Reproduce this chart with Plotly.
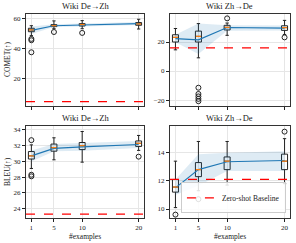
import plotly.graph_objects as go

FONT = "Liberation Serif"

x_examples = [1, 5, 10, 20]
x_ticklabels = ["1", "5", "10", "20"]

# Panel A: COMET, Wiki De->Zh
comet_dezh_q1 = [51.5, 54.9, 55.3, 55.8]
comet_dezh_med = [52.7, 55.5, 56.3, 56.7]
comet_dezh_q3 = [53.8, 56.2, 56.9, 57.6]
comet_dezh_lo = [48.9, 53.5, 53.5, 53.3]
comet_dezh_hi = [55.5, 58.7, 58.9, 59.8]
comet_dezh_out_x = [1, 1, 1, 5, 10]
comet_dezh_out_y = [46.7, 45.8, 37.8, 51.3, 50.7]
comet_dezh_mean = [52.4, 55.5, 56.0, 56.9]
comet_dezh_band_lo = [50.0, 54.6, 55.0, 55.9]
comet_dezh_band_hi = [55.0, 56.5, 57.0, 58.0]
comet_dezh_base = 4.9

# Panel B: COMET, Wiki Zh->De
comet_zhde_q1 = [20.0, 20.0, 28.3, 28.0]
comet_zhde_med = [23.2, 23.9, 30.1, 29.9]
comet_zhde_q3 = [25.0, 27.5, 31.5, 31.2]
comet_zhde_lo = [14.6, 9.1, 24.6, 25.2]
comet_zhde_hi = [29.3, 32.7, 33.1, 34.9]
comet_zhde_out_x = [5, 5, 5, 5, 5, 10, 20]
comet_zhde_out_y = [-11.5, -15.8, -17.5, -19.2, -20.8, 36.3, 23.2]
comet_zhde_mean = [22.3, 21.5, 30.0, 29.6]
comet_zhde_band_lo = [19.8, 11.7, 27.8, 27.9]
comet_zhde_band_hi = [25.0, 32.8, 31.5, 31.3]
comet_zhde_base = 15.9

# Panel C: BLEU, Wiki De->Zh
bleu_dezh_q1 = [30.3, 31.3, 31.5, 31.9]
bleu_dezh_med = [30.7, 31.75, 32.0, 32.3]
bleu_dezh_q3 = [31.25, 32.2, 32.4, 32.6]
bleu_dezh_lo = [29.1, 30.2, 29.9, 31.4]
bleu_dezh_hi = [32.1, 33.0, 33.8, 33.3]
bleu_dezh_out_x = [1, 1, 1, 20]
bleu_dezh_out_y = [32.7, 28.1, 28.3, 30.6]
bleu_dezh_mean = [30.7, 31.65, 31.85, 32.15]
bleu_dezh_band_lo = [30.0, 31.3, 31.35, 31.7]
bleu_dezh_band_hi = [31.4, 32.2, 32.35, 32.6]
bleu_dezh_base = 23.3

# Panel D: BLEU, Wiki Zh->De
bleu_zhde_q1 = [11.2, 12.3, 12.8, 12.8]
bleu_zhde_med = [11.56, 12.8, 13.4, 13.4]
bleu_zhde_q3 = [12.1, 13.3, 13.7, 13.9]
bleu_zhde_lo = [10.1, 11.3, 11.7, 11.8]
bleu_zhde_hi = [13.4, 14.8, 14.8, 15.0]
bleu_zhde_out_x = [1, 5, 20]
bleu_zhde_out_y = [9.6, 10.7, 15.5]
bleu_zhde_mean = [11.5, 12.8, 13.36, 13.45]
bleu_zhde_band_lo = [11.0, 11.65, 12.7, 12.7]
bleu_zhde_band_hi = [12.1, 13.9, 14.0, 14.1]
bleu_zhde_base = 12.1

panels = [
    dict(title="Wiki De→Zh", q1=comet_dezh_q1, med=comet_dezh_med, q3=comet_dezh_q3,
         lo=comet_dezh_lo, hi=comet_dezh_hi, ox=comet_dezh_out_x, oy=comet_dezh_out_y,
         mean=comet_dezh_mean, blo=comet_dezh_band_lo, bhi=comet_dezh_band_hi,
         base=comet_dezh_base, yr=[2.0, 63.3], yt=[20, 40, 60], ytitle="COMET(↑)",
         dom_x=[26 / 296, 144 / 296], dom_y=[1 - 106 / 243, 1 - 14 / 243], bottom=False),
    dict(title="Wiki Zh→De", q1=comet_zhde_q1, med=comet_zhde_med, q3=comet_zhde_q3,
         lo=comet_zhde_lo, hi=comet_zhde_hi, ox=comet_zhde_out_x, oy=comet_zhde_out_y,
         mean=comet_zhde_mean, blo=comet_zhde_band_lo, bhi=comet_zhde_band_hi,
         base=comet_zhde_base, yr=[-24.1, 39.3], yt=[-20, 0, 20], ytitle=None,
         dom_x=[170 / 296, 290 / 296], dom_y=[1 - 106 / 243, 1 - 14 / 243], bottom=False),
    dict(title="Wiki De→Zh", q1=bleu_dezh_q1, med=bleu_dezh_med, q3=bleu_dezh_q3,
         lo=bleu_dezh_lo, hi=bleu_dezh_hi, ox=bleu_dezh_out_x, oy=bleu_dezh_out_y,
         mean=bleu_dezh_mean, blo=bleu_dezh_band_lo, bhi=bleu_dezh_band_hi,
         base=bleu_dezh_base, yr=[22.8, 34.5], yt=[24, 26, 28, 30, 32, 34], ytitle="BLEU(↑)",
         dom_x=[26 / 296, 144 / 296], dom_y=[1 - 218 / 243, 1 - 126 / 243], bottom=True),
    dict(title="Wiki Zh→De", q1=bleu_zhde_q1, med=bleu_zhde_med, q3=bleu_zhde_q3,
         lo=bleu_zhde_lo, hi=bleu_zhde_hi, ox=bleu_zhde_out_x, oy=bleu_zhde_out_y,
         mean=bleu_zhde_mean, blo=bleu_zhde_band_lo, bhi=bleu_zhde_band_hi,
         base=bleu_zhde_base, yr=[9.36, 15.9], yt=[10, 12, 14], ytitle=None,
         dom_x=[170 / 296, 290 / 296], dom_y=[1 - 218 / 243, 1 - 126 / 243], bottom=True),
]

BOX_W = 1.05
XR = [0.05, 20.95]
BLUE = "#1f77b4"
ORANGE = "#ff7f0e"
INK = "#222222"
GRID = "#e6e6e6"

fig = go.Figure()
layout = dict(
    width=296, height=243, autosize=False,
    margin=dict(l=0, r=0, t=0, b=0),
    paper_bgcolor="white", plot_bgcolor="white",
    font=dict(family=FONT, size=7, color=INK),
    showlegend=True,
    legend=dict(x=0.966, y=0.122, xanchor="right", yanchor="bottom",
                bgcolor="rgba(255,255,255,0.85)", bordercolor="#cccccc", borderwidth=1,
                font=dict(family=FONT, size=7.5, color=INK),
                itemwidth=30, tracegroupgap=0),
)
annotations = []
shapes = []

for i, p in enumerate(panels):
    n = i + 1
    xa = "x" if n == 1 else f"x{n}"
    ya = "y" if n == 1 else f"y{n}"
    xkey = "xaxis" if n == 1 else f"xaxis{n}"
    ykey = "yaxis" if n == 1 else f"yaxis{n}"

    # band
    fig.add_trace(go.Scatter(x=x_examples, y=p["blo"], mode="lines", line=dict(width=0),
                             hoverinfo="skip", showlegend=False, xaxis=xa, yaxis=ya))
    fig.add_trace(go.Scatter(x=x_examples, y=p["bhi"], mode="lines", line=dict(width=0),
                             fill="tonexty", fillcolor="rgba(31,119,180,0.15)",
                             hoverinfo="skip", showlegend=False, xaxis=xa, yaxis=ya))
    # boxes
    fig.add_trace(go.Box(x=x_examples, q1=p["q1"], median=p["med"], q3=p["q3"],
                         lowerfence=p["lo"], upperfence=p["hi"], width=BOX_W,
                         whiskerwidth=0.55, boxpoints=False,
                         line=dict(color=INK, width=1), fillcolor="rgba(0,0,0,0)",
                         showlegend=False, xaxis=xa, yaxis=ya))
    # mean line
    fig.add_trace(go.Scatter(x=x_examples, y=p["mean"], mode="lines",
                             line=dict(color=BLUE, width=1.1),
                             showlegend=False, xaxis=xa, yaxis=ya))
    # medians (orange)
    mx, my = [], []
    for xv, mv in zip(x_examples, p["med"]):
        mx += [xv - BOX_W / 2 + 0.08, xv + BOX_W / 2 - 0.08, None]
        my += [mv, mv, None]
    fig.add_trace(go.Scatter(x=mx, y=my, mode="lines", line=dict(color=ORANGE, width=1.2),
                             showlegend=False, xaxis=xa, yaxis=ya))
    # outliers
    fig.add_trace(go.Scatter(x=p["ox"], y=p["oy"], mode="markers",
                             marker=dict(symbol="circle-open", size=5, color=INK,
                                         line=dict(width=1, color=INK)),
                             showlegend=False, xaxis=xa, yaxis=ya))
    # baseline
    shapes.append(dict(type="line", xref=f"{xa} domain", yref=ya, x0=0, x1=1,
                       y0=p["base"], y1=p["base"],
                       line=dict(color="red", width=1.2, dash="dash")))

    layout[xkey] = dict(domain=p["dom_x"], range=XR, tickmode="array",
                        tickvals=x_examples, ticktext=x_ticklabels,
                        showticklabels=p["bottom"], ticks="outside", ticklen=3,
                        tickcolor=INK, tickwidth=0.8,
                        showgrid=True, gridcolor=GRID, gridwidth=0.8,
                        showline=True, linecolor="#333333", linewidth=1, mirror=True,
                        zeroline=False, anchor=ya,
                        tickfont=dict(family=FONT, size=7, color=INK))
    layout[ykey] = dict(domain=p["dom_y"], range=p["yr"], tickmode="array",
                        tickvals=p["yt"], ticks="outside", ticklen=3,
                        tickcolor=INK, tickwidth=0.8,
                        showgrid=True, gridcolor=GRID, gridwidth=0.8,
                        showline=True, linecolor="#333333", linewidth=1, mirror=True,
                        zeroline=False, anchor=xa,
                        tickfont=dict(family=FONT, size=7, color=INK))

    cx = (p["dom_x"][0] + p["dom_x"][1]) / 2
    annotations.append(dict(text=p["title"], x=cx, y=p["dom_y"][1] + 7.5 / 243,
                            xref="paper", yref="paper", xanchor="center", yanchor="middle",
                            showarrow=False, font=dict(family=FONT, size=8.5, color=INK)))
    if p["ytitle"]:
        annotations.append(dict(text=p["ytitle"], x=7 / 296,
                                y=(p["dom_y"][0] + p["dom_y"][1]) / 2,
                                xref="paper", yref="paper", xanchor="center", yanchor="middle",
                                textangle=-90, showarrow=False,
                                font=dict(family=FONT, size=7.5, color=INK)))
    if p["bottom"]:
        annotations.append(dict(text="#examples", x=cx, y=1 - 236.5 / 243,
                                xref="paper", yref="paper", xanchor="center", yanchor="middle",
                                showarrow=False, font=dict(family=FONT, size=7.5, color=INK)))

# legend entry for the baseline
fig.add_trace(go.Scatter(x=[None], y=[None], mode="lines", name="Zero-shot Baseline",
                         line=dict(color="red", width=1.2, dash="dash"),
                         showlegend=True, xaxis="x4", yaxis="y4"))

layout["annotations"] = annotations
layout["shapes"] = shapes
fig.update_layout(**layout)

fig.write_html("out.html", config={"displayModeBar": False},
               post_script="document.body.style.margin='0';")
